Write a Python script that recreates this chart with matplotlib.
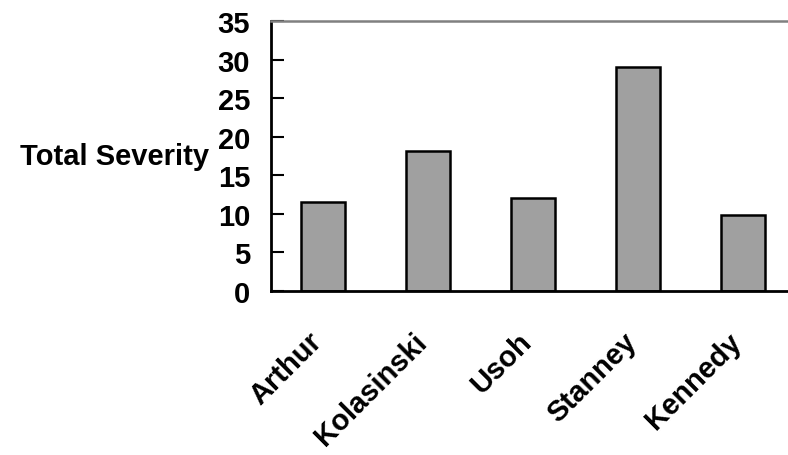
import matplotlib.pyplot as plt
from matplotlib.transforms import ScaledTranslation

plt.rcParams["font.family"] = ["Liberation Sans", "DejaVu Sans"]
plt.rcParams["font.weight"] = "bold"

authors = ["Arthur", "Kolasinski", "Usoh", "Stanney", "Kennedy"]
severity = [11.6, 18.1, 12.1, 29.0, 9.85]

fig = plt.figure(figsize=(7.88, 4.56), dpi=100)
ax = fig.add_axes([271 / 788, 1 - 292 / 456, 524.5 / 788, 270 / 456])

x = range(len(authors))
ax.bar(x, severity, width=0.42, color="#a0a0a0", edgecolor="black", linewidth=1.8)

ax.set_xlim(-0.5, len(authors) - 0.5)
ax.set_ylim(0, 35)
ax.set_yticks(range(0, 36, 5))
ax.set_xticks(list(x))
ax.set_xticklabels(authors, rotation=45, ha="right", va="center", rotation_mode="anchor",
                   fontsize=21, fontweight="bold")
ax.tick_params(axis="y", direction="in", length=9, width=1.5, labelsize=21, pad=15)
ax.tick_params(axis="x", length=0, pad=33)
shift = ScaledTranslation(-6 / 100, 0, fig.dpi_scale_trans)
for lbl in ax.get_xticklabels():
    lbl.set_transform(lbl.get_transform() + shift)
for lbl in ax.get_yticklabels():
    lbl.set_fontweight("bold")

ax.spines["right"].set_visible(False)
ax.spines["top"].set_color("#808080")
ax.spines["top"].set_linewidth(1.8)
ax.spines["left"].set_linewidth(2)
ax.spines["bottom"].set_linewidth(2)

ax.set_ylabel("Total Severity", rotation=0, ha="right", va="center", fontsize=21, fontweight="bold", labelpad=6)

fig.savefig("out.png", dpi=100)
